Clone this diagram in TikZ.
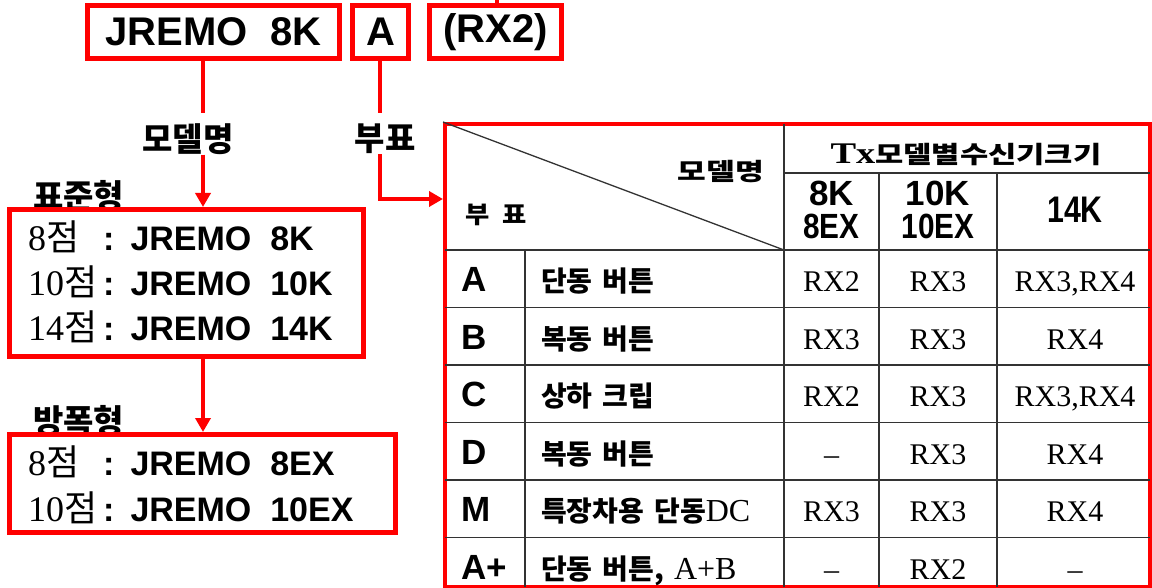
\documentclass[tikz,border=0pt]{standalone}
\usepackage{fontspec}
\usepackage{graphicx}
\setmainfont{Liberation Serif}
\setsansfont{Liberation Sans}
\newfontfamily\kr{Noto Sans CJK KR}
\usetikzlibrary{arrows.meta, positioning}

\newcommand{\jr}[1]{{\sffamily\bfseries #1}}
\newcommand{\wide}[2]{\scalebox{#1}[1]{#2}}
\newcommand{\jeom}{{\kr 점}}
\newcommand{\lat}[1]{{\rmfamily\mdseries\fontsize{32}{34}\selectfont #1}}
\newcommand{\gap}{\hspace{10pt}}
\newcommand{\pline}[2]{\makebox[75pt][l]{\fontsize{36}{40}\selectfont #1}\jr{:\hspace{16pt}#2}}

\begin{document}
\begin{tikzpicture}[x=1pt, y=-1pt,
    redbox/.style={draw=red, line width=5pt, inner sep=0pt},
    redline/.style={draw=red, line width=4pt},
    redarrow/.style={redline, -{Triangle[length=14pt, width=15pt]}},
    grid/.style={draw=black!80, line width=1.3pt},
    big/.style={font=\fontsize{40}{44}\selectfont\sffamily\bfseries},
    entry/.style={font=\fontsize{34}{40}\selectfont, anchor=base west, inner sep=0pt},
    head/.style={font=\fontsize{33}{36}\selectfont\kr\bfseries, inner sep=0pt},
    hsans/.style={font=\fontsize{35}{33}\selectfont\sffamily\bfseries, inner sep=0pt, align=center},
    khead/.style={font=\fontsize{24}{28}\selectfont\kr\bfseries, inner sep=0pt},
    tag/.style={font=\fontsize{35}{36}\selectfont\sffamily\bfseries, anchor=base west, inner sep=0pt},
    desc/.style={font=\fontsize{28}{30}\selectfont\kr\bfseries, anchor=base west, inner sep=0pt},
    cell/.style={font=\fontsize{30}{32}\selectfont, anchor=base, inner sep=0pt}]
\useasboundingbox (0,0) rectangle (1152,588);

% model code boxes
\node[redbox, big, minimum width=252pt, minimum height=53pt] (model) at (213.5,32) {JREMO~~8K};
\node[redbox, big, minimum width=56pt, minimum height=53pt] (opt) at (380.5,32) {A};
\node[redbox, big, minimum width=132pt, minimum height=53pt] (rx) at (495.5,32) {(RX2)};
\coordinate (rxup) at (497,0);
\draw[redline] (rx.north -| rxup) -- (rxup);

\coordinate (m1) at (203,113);
\coordinate (b1) at (380,113);
\coordinate (b2) at (380,199);
\draw[redline] (model.south -| m1) -- (m1);
\draw[redline] (opt.south -| b1) -- (b1);

\node[head] (mname) at (188,139) {모델명};
\node[head] (subt) at (385,139) {부표};

% standard type
\node[head, anchor=base west] (stdlbl) at (33,209) {표준형};
\node[redbox, minimum width=354pt, minimum height=147pt] (std) at (186.5,283) {};
\node[entry] (s8) at (28,251) {\pline{8\jeom}{JREMO~~8K}};
\node[entry] (s10) at (28,296) {\pline{10\jeom}{JREMO~~10K}};
\node[entry] (s14) at (28,341) {\pline{14\jeom}{JREMO~~14K}};

% explosion-proof type
\node[head, anchor=base west] (exlbl) at (33,433) {방폭형};
\node[redbox, minimum width=386pt, minimum height=98pt] (ex) at (202.5,483.5) {};
\node[entry] (e8) at (28,475) {\pline{8\jeom}{JREMO~~8EX}};
\node[entry] (e10) at (28,521) {\pline{10\jeom}{JREMO~~10EX}};

\draw[redarrow] (mname.south -| m1) -- (std.north -| m1);
\draw[redarrow] (std.south -| m1) -- (ex.north -| m1);

% option table
\node[draw=red, line width=4pt, minimum width=705pt, minimum height=463pt, inner sep=0pt] (tbl) at (797.5,355.5) {};
\draw[redarrow] (subt.south -| b1) -- (b2) -- (b2 -| tbl.west);

\coordinate (hc) at (784,250);
\draw[grid] (tbl.north west) -- (hc);
\draw[grid] (784,124) -- (784,587);
\draw[grid] (784,173) -- (1150,173);
\draw[grid] (879,173) -- (879,587);
\draw[grid] (997,173) -- (997,587);
\draw[grid] (525,250) -- (525,587);
\foreach \y in {250,307.5,365,422.5,480,537.5}
  \draw[grid] (445,\y) -- (1150,\y);

\node[khead] (tx) at (966,155) {\wide{1.28}{{\rmfamily\fontsize{30}{32}\selectfont Tx}모델별수신기크기}};
\node[khead] (hmodel) at (721,172) {\wide{1.3}{모델명}};
\node[khead] (hsub) at (496,215) {\wide{1.1}{부\enspace 표}};
\node[hsans] (h8) at (831.5,210) {8K\\\wide{0.85}{8EX}};
\node[hsans] (h10) at (938,210) {10K\\\wide{0.85}{10EX}};
\node[hsans, font=\fontsize{37}{37}\selectfont\sffamily\bfseries] (h14) at (1075,210) {\wide{0.82}{14K}};

\foreach \r/\tg/\ds/\va/\vb/\vc in {
    0/A/{단동\gap 버튼}/RX2/RX3/{RX3,RX4},
    1/B/{복동\gap 버튼}/RX3/RX3/RX4,
    2/C/{상하\gap 크립}/RX2/RX3/{RX3,RX4},
    3/D/{복동\gap 버튼}/\textendash/RX3/RX4,
    4/M/{특장차용\gap 단동\lat{DC}}/RX3/RX3/RX4,
    5/A+/{단동\gap 버튼,\gap\lat{A+B}}/\textendash/RX2/\textendash}
{
  \pgfmathsetmacro\yb{291.75+57.5*\r}
  \node[tag] (o\r) at (461,\yb) {\tg};
  \node[desc] (d\r) at (541,\yb) {\ds};
  \node[cell] (p\r) at (831.5,\yb) {\va};
  \node[cell] (q\r) at (938,\yb) {\vb};
  \node[cell] (s\r) at (1075,\yb) {\vc};
}
\end{tikzpicture}
\end{document}
